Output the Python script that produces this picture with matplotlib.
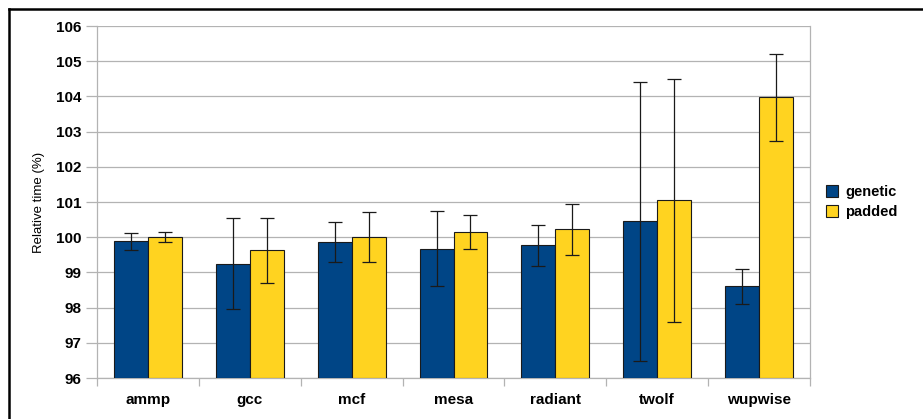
import matplotlib
matplotlib.use("Agg")
import matplotlib.pyplot as plt
from matplotlib.lines import Line2D
import numpy as np

plt.rcParams['font.family'] = ['Liberation Sans', 'DejaVu Sans']

categories = ["ammp", "gcc", "mcf", "mesa", "radiant", "twolf", "wupwise"]
genetic = [99.89, 99.25, 99.86, 99.67, 99.77, 100.45, 98.60]
genetic_err = [0.24, 1.30, 0.56, 1.07, 0.59, 3.96, 0.51]
padded = [100.01, 99.63, 100.01, 100.15, 100.22, 101.05, 103.97]
padded_err = [0.15, 0.92, 0.71, 0.48, 0.72, 3.45, 1.24]
yticks = [96, 97, 98, 99, 100, 101, 102, 103, 104, 105, 106]

c_gen = "#004586"
c_pad = "#ffd320"

fig = plt.figure(figsize=(9.23, 4.19), dpi=100)
ax = fig.add_axes([97/923, 1 - 378/419, (810-97)/923, (378-26)/419])

x = np.arange(len(categories))
w = 1/3
base = 96
ax.bar(x - w/2, np.array(genetic) - base, w, bottom=base, color=c_gen,
       edgecolor="#1a1a1a", linewidth=0.8, zorder=3, label="genetic")
ax.bar(x + w/2, np.array(padded) - base, w, bottom=base, color=c_pad,
       edgecolor="#1a1a1a", linewidth=0.8, zorder=3, label="padded")
ax.errorbar(x - w/2, genetic, yerr=genetic_err, fmt="none", ecolor="#1a1a1a",
            elinewidth=0.9, capsize=5, capthick=0.9, zorder=4)
ax.errorbar(x + w/2, padded, yerr=padded_err, fmt="none", ecolor="#1a1a1a",
            elinewidth=0.9, capsize=5, capthick=0.9, zorder=4)

ax.set_xlim(-0.5, len(categories) - 0.5)
ax.set_ylim(96, 106)
ax.set_yticks(yticks)
ax.set_yticklabels([str(t) for t in yticks], fontsize=11, fontweight="bold")
ax.yaxis.grid(True, color="#b3b3b3", linewidth=0.9, zorder=0)
ax.set_axisbelow(True)

ax.set_xticks(np.arange(len(categories) + 1) - 0.5)
ax.set_xticklabels([])
ax.set_xticks(x, minor=True)
ax.set_xticklabels(categories, minor=True, fontsize=11, fontweight="bold")
ax.tick_params(axis="x", which="minor", length=0, pad=11)
ax.tick_params(axis="x", which="major", length=6, color="#b3b3b3", width=0.9)
ax.tick_params(axis="y", length=8, color="#b3b3b3", width=0.9, pad=3)

for s in ["left", "bottom", "right"]:
    ax.spines[s].set_color("#b3b3b3")
    ax.spines[s].set_linewidth(0.9)
ax.spines["top"].set_visible(False)

ax.set_ylabel("Relative time (%)", fontsize=9.5)
ax.yaxis.set_label_coords(-0.073, 0.5)

leg = ax.legend(loc="center left", bbox_to_anchor=(1.004, 0.5), frameon=False,
                prop={"size": 10.5, "weight": "bold"}, handlelength=0.8,
                handleheight=0.9, handletextpad=0.5, labelspacing=0.4)

# figure border (top and left visible)
fig.add_artist(Line2D([9/923, 9/923], [0, 1 - 9/419], transform=fig.transFigure,
                      color="black", linewidth=1.8))
fig.add_artist(Line2D([9/923, 1], [1 - 9/419, 1 - 9/419], transform=fig.transFigure,
                      color="black", linewidth=1.8))

fig.savefig("out.png", dpi=100)
